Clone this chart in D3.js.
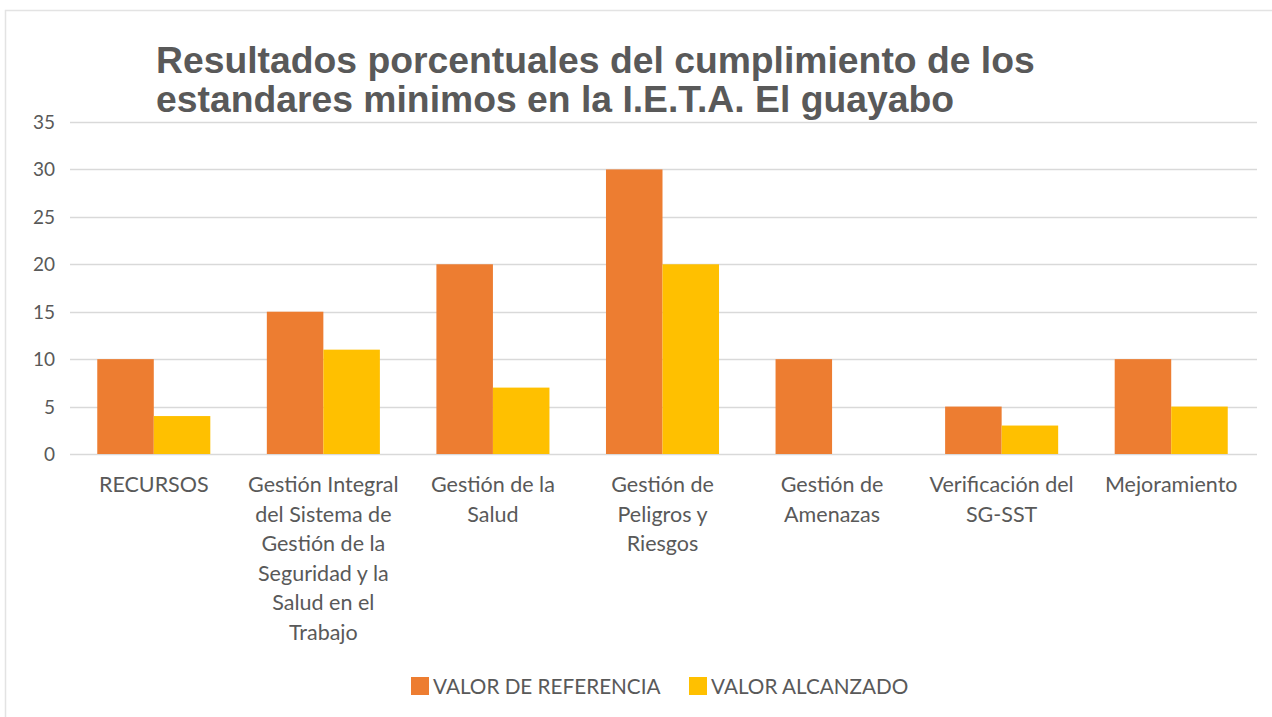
<!DOCTYPE html>
<html><head><meta charset="utf-8">
<script src="https://cdn.jsdelivr.net/npm/d3@7"></script>
<style>body{margin:0;background:#fff;}svg{display:block;}</style>
</head><body>
<svg id="chart" width="1272" height="717"></svg>
<script>
const titleLines = ["Resultados porcentuales del cumplimiento de los", "estandares minimos en la I.E.T.A. El guayabo"];
const categories = [
  "RECURSOS",
  "Gestión Integral\ndel Sistema de\nGestión de la\nSeguridad y la\nSalud en el\nTrabajo",
  "Gestión de la\nSalud",
  "Gestión de\nPeligros y\nRiesgos",
  "Gestión de\nAmenazas",
  "Verificación del\nSG-SST",
  "Mejoramiento"
];
const seriesNames = ["VALOR DE REFERENCIA", "VALOR ALCANZADO"];
const valorReferencia = [10, 15, 20, 30, 10, 5, 10];
const valorAlcanzado = [4, 11, 7, 20, 0, 3, 5];
const yTicks = [0, 5, 10, 15, 20, 25, 30, 35];
const colors = ["#ED7D31", "#FFC000"];

const svg = d3.select("#chart");
const textColor = "#595959";
const labelFont = "Lato, 'Open Sans', sans-serif";

// frame
svg.append("rect").attr("x", 5.5).attr("y", 10.5).attr("width", 1280).attr("height", 720)
  .attr("fill", "#fff").attr("stroke", "#e3e3e3").attr("stroke-width", 1.5);

const plotLeft = 69, plotRight = 1256, plotTop = 122, plotBottom = 454;
const y = d3.scaleLinear().domain([0, 35]).range([plotBottom, plotTop]);
const x0 = d3.scaleBand().domain(categories).range([plotLeft, plotRight]).paddingInner(1/3).paddingOuter(1/6);
const x1 = d3.scaleBand().domain(seriesNames).range([0, x0.bandwidth()]);

// gridlines
svg.append("g").selectAll("line").data(yTicks).join("line")
  .attr("x1", 70).attr("x2", 1257)
  .attr("y1", d => Math.round(y(d)) + 0.5).attr("y2", d => Math.round(y(d)) + 0.5)
  .attr("stroke", "#d9d9d9").attr("stroke-width", 1.3);

// y labels
const yAxis = d3.axisLeft(y).tickValues(yTicks).tickSize(0).tickPadding(0);
const yg = svg.append("g").attr("transform", "translate(55,0)").call(yAxis);
yg.select(".domain").remove();
yg.selectAll("text").attr("fill", textColor).style("font-family", labelFont).style("font-size", "19px").attr("dy", "0.34em");

// bars
const data = categories.map((c, i) => ({cat: c, vals: [valorReferencia[i], valorAlcanzado[i]]}));
const groups = svg.append("g").selectAll("g").data(data).join("g")
  .attr("transform", d => `translate(${x0(d.cat)},0)`);
groups.selectAll("rect").data(d => d.vals.map((v, j) => ({v, s: seriesNames[j], j}))).join("rect")
  .attr("x", d => x1(d.s)).attr("width", x1.bandwidth())
  .attr("y", d => y(d.v)).attr("height", d => y(0) - y(d.v))
  .attr("fill", d => colors[d.j]);

// x labels
const xg = svg.append("g");
categories.forEach(c => {
  const cx = x0(c) + x0.bandwidth() / 2;
  const t = xg.append("text").attr("text-anchor", "middle").attr("fill", textColor)
    .style("font-family", labelFont).style("font-size", "21.5px");
  c.split("\n").forEach((line, k) => {
    t.append("tspan").attr("x", cx).attr("y", 492 + k * 29.6).text(line);
  });
});

// title
const title = svg.append("g");
titleLines.forEach((line, k) => {
  title.append("text").attr("x", 156).attr("y", 73 + k * 39)
    .attr("fill", textColor)
    .style("font-family", "'Liberation Sans', Arial, sans-serif")
    .style("font-weight", "bold").style("font-size", "37.3px")
    .text(line);
});

// legend
const legendX = [411, 689];
const lg = svg.append("g");
seriesNames.forEach((s, i) => {
  lg.append("rect").attr("x", legendX[i]).attr("y", 677).attr("width", 18).attr("height", 18).attr("fill", colors[i]);
  lg.append("text").attr("x", legendX[i] + 22).attr("y", 694).attr("fill", textColor)
    .style("font-family", labelFont).style("font-size", "20.7px").text(s);
});
</script>
</body></html>
